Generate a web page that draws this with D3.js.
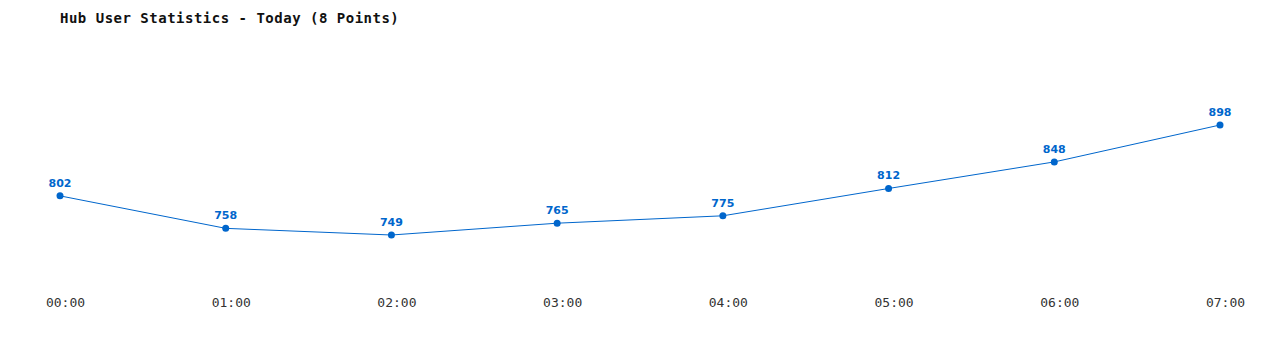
<!DOCTYPE html>
<html>
<head>
<meta charset="utf-8">
<script src="https://cdn.jsdelivr.net/npm/d3@7"></script>
<style>
  body { margin: 0; background: #fff; }
</style>
</head>
<body>
<div id="chart"></div>
<script>
const width = 1280;
const height = 350;

// data
const hours = ["00:00", "01:00", "02:00", "03:00", "04:00", "05:00", "06:00", "07:00"];
const users = [802, 758, 749, 765, 775, 812, 848, 898];

const color = "#0066cc";

const svg = d3.select("#chart").append("svg")
    .attr("width", width)
    .attr("height", height);

svg.append("text")
    .attr("x", 60)
    .attr("y", 23)
    .attr("font-family", "DejaVu Sans Mono, monospace")
    .attr("font-size", 14)
    .attr("font-weight", "bold")
    .attr("letter-spacing", 0.5)
    .attr("fill", "#111")
    .text("Hub User Statistics - Today (8 Points)");

const xScale = d3.scalePoint()
    .domain(hours)
    .range([60, 1220]);

const yScale = d3.scaleLinear()
    .domain([749, 898])
    .range([235, 125]);

// x axis labels (no line, no ticks)
const xAxis = d3.axisBottom(xScale).tickSize(0).tickPadding(0);
const gx = svg.append("g")
    .attr("transform", "translate(5,298)")
    .call(xAxis);
gx.select(".domain").remove();
gx.selectAll("text")
    .attr("font-family", "DejaVu Sans Mono, monospace")
    .attr("font-size", 13)
    .attr("fill", "#333");

const pts = hours.map((h, i) => ({ h: h, v: users[i] }));

svg.append("path")
    .datum(pts)
    .attr("fill", "none")
    .attr("stroke", color)
    .attr("stroke-width", 1)
    .attr("d", d3.line()
        .x(d => xScale(d.h))
        .y(d => yScale(d.v)));

svg.selectAll("circle.pt")
    .data(pts)
    .join("circle")
    .attr("class", "pt")
    .attr("cx", d => xScale(d.h))
    .attr("cy", d => yScale(d.v))
    .attr("r", 3.5)
    .attr("fill", color);

svg.selectAll("text.val")
    .data(pts)
    .join("text")
    .attr("class", "val")
    .attr("x", d => xScale(d.h))
    .attr("y", d => yScale(d.v) - 9)
    .attr("text-anchor", "middle")
    .attr("font-family", "DejaVu Sans, Verdana, sans-serif")
    .attr("font-size", 11)
    .attr("font-weight", "bold")
    .attr("fill", color)
    .text(d => d.v);
</script>
</body>
</html>
